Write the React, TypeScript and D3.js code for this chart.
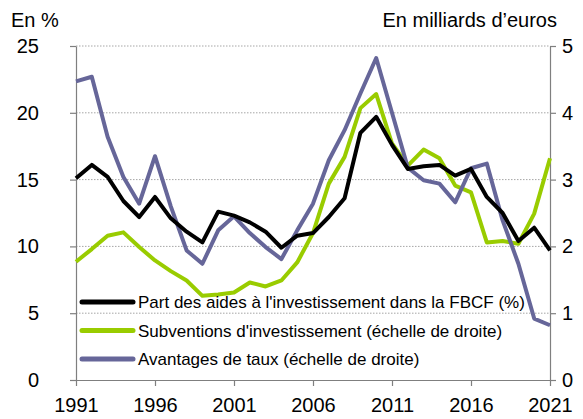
import * as d3 from 'd3';
import React, { useEffect, useRef } from 'react';

const years = d3.range(1991, 2022);

// Part des aides à l'investissement dans la FBCF (%) - left axis
const partAides = [
  15.1, 16.1, 15.2, 13.4, 12.2, 13.7, 12.1, 11.1, 10.3, 12.6,
  12.3, 11.8, 11.1, 9.9, 10.8, 11.0, 12.2, 13.6, 18.5, 19.7,
  17.6, 15.8, 16.0, 16.1, 15.3, 15.8, 13.7, 12.5, 10.4, 11.4, 9.7,
];

// Subventions d'investissement (right axis, Md€)
const subventions = [
  1.77, 1.96, 2.16, 2.21, 1.99, 1.79, 1.63, 1.49, 1.26, 1.28,
  1.31, 1.46, 1.40, 1.49, 1.76, 2.2, 2.94, 3.34, 4.07, 4.28,
  3.54, 3.21, 3.45, 3.32, 2.91, 2.81, 2.06, 2.08, 2.04, 2.49, 3.32,
];

// Avantages de taux (right axis, Md€)
const avantages = [
  4.47, 4.54, 3.64, 3.04, 2.64, 3.35, 2.6, 1.94, 1.74, 2.24,
  2.45, 2.2, 1.99, 1.81, 2.24, 2.64, 3.29, 3.74, 4.29, 4.82,
  4.0, 3.18, 2.99, 2.94, 2.66, 3.17, 3.24, 2.39, 1.74, 0.92, 0.82,
];

const leftTicks = [0, 5, 10, 15, 20, 25];
const rightTicks = [0, 1, 2, 3, 4, 5];
const xTicks = [1991, 1996, 2001, 2006, 2011, 2016, 2021];

const legendItems = [
  { label: "Part des aides à l'investissement dans la FBCF (%)", color: '#000000' },
  { label: "Subventions d'investissement (échelle de droite)", color: '#99cc00' },
  { label: 'Avantages de taux (échelle de droite)', color: '#666699' },
];

const App = () => {
  const ref = useRef<SVGSVGElement>(null);

  useEffect(() => {
    const width = 583;
    const height = 419;
    const margin = { top: 46, right: 33, bottom: 39, left: 76 };

    const svg = d3.select(ref.current);
    svg.selectAll('*').remove();
    svg.attr('width', width).attr('height', height);

    const x = d3.scaleLinear()
      .domain([1991, 2021])
      .range([margin.left, width - margin.right]);
    const yL = d3.scaleLinear()
      .domain([0, 25])
      .range([height - margin.bottom, margin.top]);
    const yR = d3.scaleLinear()
      .domain([0, 5])
      .range([height - margin.bottom, margin.top]);

    const font = 'Liberation Sans, Arial, sans-serif';

    // gridlines
    svg.append('g')
      .selectAll('line')
      .data(leftTicks.filter(d => d > 0))
      .join('line')
      .attr('x1', margin.left)
      .attr('x2', width - margin.right)
      .attr('y1', d => yL(d))
      .attr('y2', d => yL(d))
      .attr('stroke', '#a6a6a6')
      .attr('stroke-width', 1)
      .attr('stroke-dasharray', '1.5,1.5');

    // axes
    const axisColor = '#7f7f7f';
    const styleAxis = (g) => {
      g.select('.domain').attr('stroke', axisColor).attr('stroke-width', 1.2);
      g.selectAll('.tick line').attr('stroke', axisColor).attr('stroke-width', 1.2);
      g.selectAll('.tick text')
        .attr('fill', '#000')
        .style('font-family', font)
        .style('font-size', '20px');
    };

    svg.append('g')
      .attr('transform', `translate(${margin.left},0)`)
      .call(d3.axisLeft(yL).tickValues(leftTicks).tickSize(6).tickSizeOuter(0).tickPadding(31))
      .call(styleAxis);

    svg.append('g')
      .attr('transform', `translate(${width - margin.right},0)`)
      .call(d3.axisRight(yR).tickValues(rightTicks).tickFormat(d3.format('d')).tickSize(6).tickSizeOuter(0).tickPadding(6))
      .call(styleAxis);

    svg.append('g')
      .attr('transform', `translate(0,${height - margin.bottom})`)
      .call(d3.axisBottom(x).tickValues(xTicks).tickFormat(d3.format('d')).tickSize(6).tickSizeOuter(0).tickPadding(12))
      .call(styleAxis);

    // lines
    const lineL = d3.line<number>().x((d, i) => x(years[i])).y(d => yL(d));
    const lineR = d3.line<number>().x((d, i) => x(years[i])).y(d => yR(d));

    const series = [
      { data: subventions, gen: lineR, color: legendItems[1].color },
      { data: avantages, gen: lineR, color: legendItems[2].color },
      { data: partAides, gen: lineL, color: legendItems[0].color },
    ];

    series.forEach(s => {
      svg.append('path')
        .datum(s.data)
        .attr('d', s.gen)
        .attr('fill', 'none')
        .attr('stroke', s.color)
        .attr('stroke-width', 4)
        .attr('stroke-linejoin', 'round');
    });

    // legend
    const legend = svg.append('g').attr('transform', 'translate(82,302)');
    legendItems.forEach((item, i) => {
      const g = legend.append('g').attr('transform', `translate(0,${i * 28.5})`);
      g.append('line')
        .attr('x1', 0).attr('x2', 51)
        .attr('y1', 0).attr('y2', 0)
        .attr('stroke', item.color)
        .attr('stroke-width', 5)
        .attr('stroke-linecap', 'round');
      g.append('text')
        .attr('x', 56)
        .attr('y', 6)
        .style('font-family', font)
        .style('font-size', '17px')
        .text(item.label);
    });

    // axis titles
    svg.append('text')
      .attr('x', 11).attr('y', 27)
      .style('font-family', font)
      .style('font-size', '20px')
      .text('En %');

    svg.append('text')
      .attr('x', 557).attr('y', 27)
      .attr('text-anchor', 'end')
      .style('font-family', font)
      .style('font-size', '20px')
      .text('En milliards d\u2019euros');
  }, []);

  return <svg ref={ref} style={{ position: 'absolute', left: 0, top: 0 }}></svg>;
};

export default App;
